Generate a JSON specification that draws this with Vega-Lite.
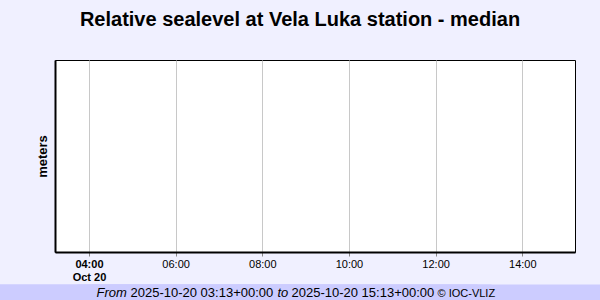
{
  "$schema": "https://vega.github.io/schema/vega-lite/v6.json",
  "width": 520,
  "height": 192,
  "autosize": {"type": "none"},
  "padding": {"left": 55, "top": 60, "right": 25, "bottom": 48},
  "background": "#f0f0ff",
  "title": {
    "text": "Relative sealevel at Vela Luka station - median",
    "font": "Liberation Sans",
    "fontSize": 20,
    "fontWeight": "bold",
    "color": "black",
    "anchor": "middle",
    "frame": "group",
    "dx": -15,
    "offset": 30
  },
  "data": {
    "values": [
      {"time": "2025-10-20T03:13:00Z", "level": null},
      {"time": "2025-10-20T15:13:00Z", "level": null}
    ]
  },
  "encoding": {
    "y": {
      "field": "level",
      "type": "quantitative",
      "scale": {"domain": [0, 1], "nice": false, "zero": false},
      "axis": {
        "title": "meters",
        "titleFont": "Liberation Sans",
        "titleFontSize": 13,
        "titleFontWeight": "bold",
        "titleColor": "black",
        "titlePadding": 6,
        "labels": false,
        "ticks": false,
        "grid": false,
        "domain": true,
        "domainColor": "black",
        "domainWidth": 2
      }
    }
  },
  "layer": [
    {
      "mark": {"type": "line", "color": "#0000ff"},
      "encoding": {
        "x": {
          "field": "time",
          "type": "temporal",
          "scale": {
            "type": "utc",
            "nice": false,
            "domain": [
              {"year": 2025, "month": 10, "date": 20, "hours": 3, "minutes": 13, "utc": true},
              {"year": 2025, "month": 10, "date": 20, "hours": 15, "minutes": 13, "utc": true}
            ]
          },
          "axis": {
            "orient": "bottom",
            "title": null,
            "values": [
              {"year": 2025, "month": 10, "date": 20, "hours": 4, "utc": true},
              {"year": 2025, "month": 10, "date": 20, "hours": 6, "utc": true},
              {"year": 2025, "month": 10, "date": 20, "hours": 8, "utc": true},
              {"year": 2025, "month": 10, "date": 20, "hours": 10, "utc": true},
              {"year": 2025, "month": 10, "date": 20, "hours": 12, "utc": true},
              {"year": 2025, "month": 10, "date": 20, "hours": 14, "utc": true}
            ],
            "labelExpr": "utchours(datum.value) == 4 ? [utcFormat(datum.value, '%H:%M'), 'Oct 20'] : utcFormat(datum.value, '%H:%M')",
            "labelFontWeight": {"condition": {"test": "utchours(datum.value) == 4", "value": "bold"}, "value": "normal"},
            "labelFont": "Liberation Sans",
            "labelFontSize": 11,
            "labelColor": "black",
            "labelLineHeight": 13,
            "labelPadding": 2,
            "labelOverlap": false,
            "labelFlush": false,
            "tickSize": 4,
            "tickColor": "#888888",
            "domainColor": "black",
            "domainWidth": 2,
            "grid": true,
            "gridColor": "#c8c8c8",
            "gridWidth": 1
          }
        }
      }
    },
    {
      "mark": {"type": "point", "opacity": 0},
      "encoding": {
        "x": {
          "field": "time",
          "type": "temporal",
          "axis": {
            "orient": "top",
            "offset": -240,
            "title": null,
            "domain": false,
            "grid": false,
            "ticks": true,
            "tickSize": 16,
            "tickWidth": 400,
            "tickColor": "#ccccff",
            "tickCap": "butt",
            "values": [
              {"year": 2025, "month": 10, "date": 20, "hours": 4, "minutes": 9, "seconds": 46, "utc": true},
              {"year": 2025, "month": 10, "date": 20, "hours": 4, "minutes": 56, "seconds": 51, "utc": true},
              {"year": 2025, "month": 10, "date": 20, "hours": 8, "minutes": 20, "seconds": 23, "utc": true},
              {"year": 2025, "month": 10, "date": 20, "hours": 8, "minutes": 39, "seconds": 46, "utc": true},
              {"year": 2025, "month": 10, "date": 20, "hours": 12, "minutes": 1, "seconds": 55, "utc": true}
            ],
            "labelExpr": "(utchours(datum.value)*60+utcminutes(datum.value)) < 270 ? 'From' : (utchours(datum.value)*60+utcminutes(datum.value)) < 400 ? '2025-10-20 03:13+00:00' : (utchours(datum.value)*60+utcminutes(datum.value)) < 510 ? 'to' : (utchours(datum.value)*60+utcminutes(datum.value)) < 600 ? '2025-10-20 15:13+00:00' : '© IOC-VLIZ'",
            "labelFontStyle": {"condition": {"test": "(utchours(datum.value)*60+utcminutes(datum.value)) < 270 || ((utchours(datum.value)*60+utcminutes(datum.value)) >= 400 && (utchours(datum.value)*60+utcminutes(datum.value)) < 510)", "value": "italic"}, "value": "normal"},
            "labelFontSize": {"condition": {"test": "(utchours(datum.value)*60+utcminutes(datum.value)) >= 600", "value": 11}, "value": 13},
            "labelFont": "Liberation Sans",
            "labelColor": "black",
            "labelAlign": "left",
            "labelBaseline": "alphabetic",
            "labelPadding": -12,
            "labelOverlap": false,
            "labelFlush": false,
            "labelBound": false
          }
        }
      }
    }
  ],
  "resolve": {"axis": {"x": "independent"}},
  "config": {
    "view": {"stroke": "black", "strokeWidth": 1, "fill": "white"}
  }
}
